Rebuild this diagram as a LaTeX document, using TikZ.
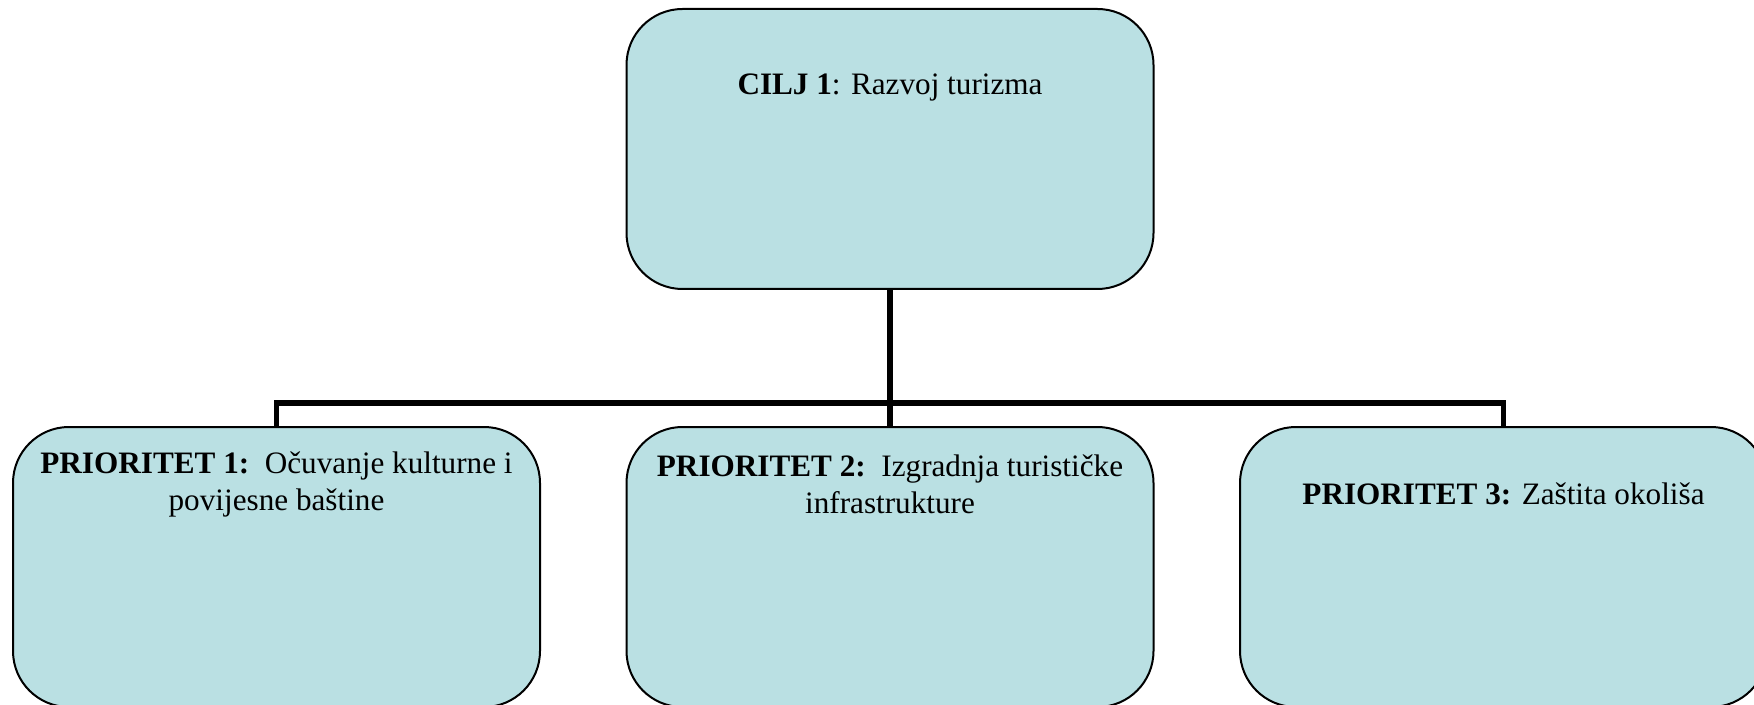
\documentclass[tikz,border=0pt]{standalone}
\usepackage{fontspec}
\setmainfont{Liberation Serif}
\definecolor{boxfill}{RGB}{186,224,227}
\tikzset{
  box/.style={draw=black, line width=1pt, fill=boxfill, rounded corners=28pt,
    minimum width=263.5pt, minimum height=140pt, inner sep=0pt},
  lbl/.style={align=center, font=\fontsize{15.6}{18.5}\selectfont, inner sep=0pt},
  conn/.style={draw=black, line width=2.6pt}
}
\begin{document}
\begin{tikzpicture}[x=0.5pt,y=-0.5pt]
\useasboundingbox (0,0) rectangle (1754,705);
\clip (0,0) rectangle (1754,705);
\node[box] (top) at (890,149) {};
\node[box] (p1) at (276.5,567) {};
\node[box] (p2) at (890,567) {};
\node[box] (p3) at (1503.5,567) {};
\coordinate (hub) at (890,403);
\draw[conn] (top.south) -- (hub);
\draw[conn] (p1.north) |- (hub) -| (p3.north);
\draw[conn] (hub) -- (p2.north);
\node[lbl] (toptext) at (890,87) {\textbf{CILJ 1}: Razvoj turizma};
\node[lbl] (p1text) at (276.5,484) {\textbf{PRIORITET 1:}\ \ Očuvanje kulturne i\\ povijesne baštine};
\node[lbl] (p2text) at (890,484) {\textbf{PRIORITET 2:}\ \ Izgradnja turističke\\ infrastrukture};
\node[lbl] (p3text) at (1503.5,494) {\textbf{PRIORITET 3:} Zaštita okoliša};
\end{tikzpicture}
\end{document}
